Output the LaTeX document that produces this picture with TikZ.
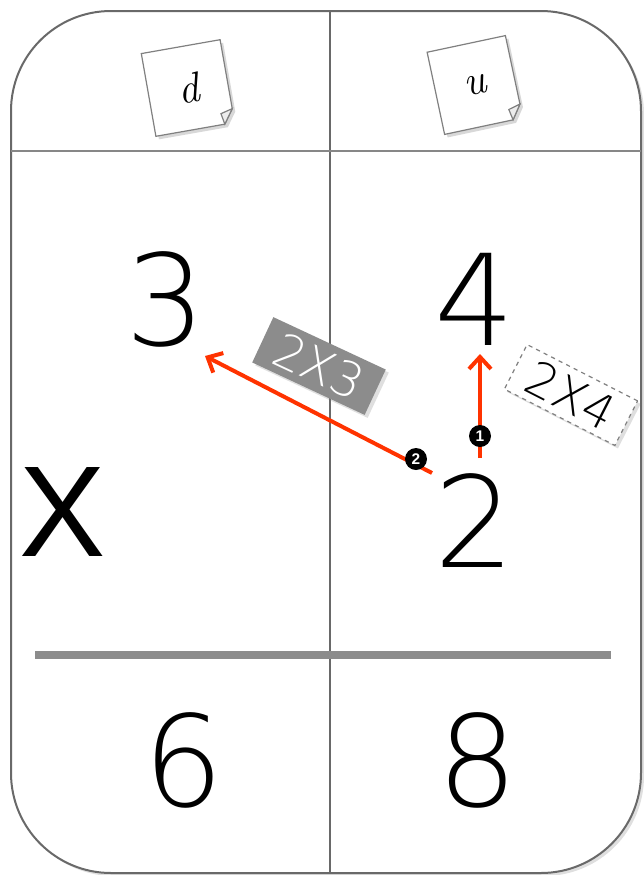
\documentclass[tikz,border=0pt]{standalone}
\usepackage{fontspec}
\newfontfamily\recta{Liberation Sans}
\newfontfamily\fino{DejaVu Sans ExtraLight}
\usetikzlibrary{arrows.meta,shadows}
\definecolor{rojo}{RGB}{255,51,0}
\definecolor{borde}{RGB}{105,105,105}
\definecolor{barra}{RGB}{140,140,140}

\begin{document}
\begin{tikzpicture}[x=0.25mm,y=-0.25mm,
cifra/.style={inner sep=0pt,font=\fino\fontsize{90}{90}\selectfont},
signo/.style={inner sep=0pt,font=\recta\fontsize{92}{92}\selectfont},
hoja/.style={fill=white,draw=gray,line width=0.3mm,drop shadow={opacity=0.3}},
letra/.style={inner sep=0pt,transform shape,font=\itshape\fontsize{30}{30}\selectfont},
etiqueta/.style={minimum width=31mm,minimum height=12.5mm,inner sep=0pt,font=\fino\fontsize{34}{34}\selectfont},
flecha/.style={draw=rojo,line width=1mm,-{Straight Barb[length=3mm,width=5.5mm,line width=1mm]}},
paso/.style={circle,fill=black,text=white,inner sep=0pt,minimum size=5.5mm,font=\recta\bfseries\fontsize{11}{11}\selectfont}
]
\useasboundingbox (0,0) rectangle (644,875);

% marco
\draw[borde,line width=0.5mm,rounded corners=25mm,fill=white,drop shadow={opacity=0.25}] (11,11) rectangle (641,873);
\draw[borde,line width=0.45mm] (330,11) -- (330,873);
\draw[borde!80,line width=0.4mm] (11,151) -- (641,151);
\draw[barra,line width=2mm] (35,655) -- (611,655);

% notas d / u
\foreach \px/\py/\ang/\nombre/\txt in {188/88/10/notad/d,475/85/12/notau/u}{
\begin{scope}[shift={(\px,\py)},rotate=\ang]
\filldraw[hoja] (-40,-42) -- (40,-42) -- (40,28) -- (30,42) -- (-40,42) -- cycle;
\filldraw[fill=gray!15,draw=gray,line width=0.3mm] (40,28) -- (28,31) -- (30,42) -- cycle;
\node[letra] (\nombre) at (0,0) {\txt};
\end{scope}
}

% cifras
\node[cifra] (tres) at (166,299) {3};
\node[cifra] (cuatro) at (475,299) {4};
\node[cifra] (dos) at (475,521) {2};
\node[signo] (por) at (63,512) {X};
\node[cifra] (seis) at (184,760) {6};
\node[cifra] (ocho) at (478,760) {8};

% etiquetas
\node[etiqueta,fill=barra,text=white,rotate=-25,drop shadow={opacity=0.25}] (e23) at (319,366) {2X3};
\node[etiqueta,fill=white,draw=gray,dashed,line width=0.3mm,rotate=-27,drop shadow={opacity=0.25}] (e24) at (571,395) {2X4};

% flechas
\coordinate (a1) at (480,458);
\coordinate (b1) at (480,354);
\coordinate (a2) at (432,473);
\coordinate (b2) at (205,356);
\draw[flecha] (a1) -- (b1);
\draw[flecha] (a2) -- (b2);
\node[paso] (p1) at (480,436) {1};
\node[paso] (p2) at (416,459) {2};
\end{tikzpicture}
\end{document}
